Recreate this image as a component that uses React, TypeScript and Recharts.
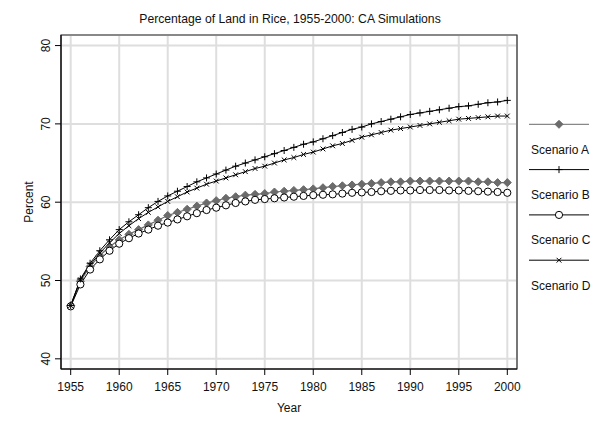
import { LineChart, Line, XAxis, YAxis, CartesianGrid, ReferenceArea } from "recharts";

const years = [
  1955, 1956, 1957, 1958, 1959, 1960, 1961, 1962, 1963, 1964, 1965, 1966, 1967, 1968, 1969, 1970,
  1971, 1972, 1973, 1974, 1975, 1976, 1977, 1978, 1979, 1980, 1981, 1982, 1983, 1984, 1985, 1986,
  1987, 1988, 1989, 1990, 1991, 1992, 1993, 1994, 1995, 1996, 1997, 1998, 1999, 2000,
];

const scenarioA = [
  46.8, 49.9, 51.8, 53.2, 54.3, 55.2, 55.9, 56.5, 57.1, 57.7, 58.3, 58.7, 59.1, 59.5, 59.9, 60.2,
  60.5, 60.7, 60.9, 61.0, 61.1, 61.3, 61.4, 61.5, 61.6, 61.7, 61.85, 62.0, 62.1, 62.2, 62.3, 62.4,
  62.5, 62.6, 62.6, 62.7, 62.7, 62.7, 62.7, 62.7, 62.7, 62.7, 62.6, 62.6, 62.5, 62.5,
];
const scenarioB = [
  46.8, 50.2, 52.2, 53.8, 55.2, 56.5, 57.5, 58.4, 59.3, 60.1, 60.8, 61.4, 62.0, 62.6, 63.1, 63.6,
  64.1, 64.6, 65.0, 65.4, 65.8, 66.2, 66.6, 67.0, 67.4, 67.7, 68.1, 68.5, 68.9, 69.3, 69.6, 70.0,
  70.3, 70.6, 70.9, 71.2, 71.4, 71.6, 71.8, 72.0, 72.2, 72.3, 72.5, 72.7, 72.8, 73.0,
];
const scenarioC = [
  46.7, 49.5, 51.4, 52.7, 53.8, 54.7, 55.4, 56.0, 56.5, 57.0, 57.4, 57.8, 58.2, 58.6, 59.0, 59.3,
  59.6, 59.9, 60.1, 60.3, 60.4, 60.5, 60.6, 60.7, 60.8, 60.9, 60.95, 61.0, 61.1, 61.2, 61.25, 61.3,
  61.4, 61.45, 61.5, 61.5, 61.55, 61.55, 61.55, 61.5, 61.5, 61.45, 61.4, 61.35, 61.3, 61.2,
];
const scenarioD = [
  46.8, 50.1, 52.0, 53.5, 54.8, 56.0, 57.0, 57.9, 58.7, 59.4, 60.1, 60.7, 61.3, 61.8, 62.3, 62.7,
  63.1, 63.5, 63.9, 64.3, 64.6, 65.0, 65.4, 65.7, 66.1, 66.4, 66.8, 67.2, 67.5, 67.9, 68.3, 68.6,
  68.9, 69.2, 69.4, 69.6, 69.8, 70.0, 70.2, 70.4, 70.6, 70.7, 70.8, 70.9, 71.0, 71.0,
];

const xTicks = [1955, 1960, 1965, 1970, 1975, 1980, 1985, 1990, 1995, 2000];
const yTicks = [40, 50, 60, 70, 80];
const seriesNames = ["Scenario A", "Scenario B", "Scenario C", "Scenario D"];

const data = years.map((year, i) => ({
  year,
  a: scenarioA[i],
  b: scenarioB[i],
  c: scenarioC[i],
  d: scenarioD[i],
}));

const FONT = '"Liberation Sans", Arial, Helvetica, sans-serif';
const GRAY = "#6b6b6b";

// marker shapes, shared by the series and the legend
function Diamond({ cx, cy }: { cx: number; cy: number }) {
  const r = 4;
  return <path d={`M${cx},${cy - r}L${cx + r},${cy}L${cx},${cy + r}L${cx - r},${cy}Z`} fill={GRAY} stroke={GRAY} />;
}
function Plus({ cx, cy }: { cx: number; cy: number }) {
  const r = 3.5;
  return <path d={`M${cx - r},${cy}H${cx + r}M${cx},${cy - r}V${cy + r}`} stroke="#000" strokeWidth={1} fill="none" />;
}
function Ring({ cx, cy }: { cx: number; cy: number }) {
  return <circle cx={cx} cy={cy} r={3.6} fill="#fff" stroke="#000" strokeWidth={1} />;
}
function Cross({ cx, cy }: { cx: number; cy: number }) {
  const r = 2.4;
  return <path d={`M${cx - r},${cy - r}L${cx + r},${cy + r}M${cx - r},${cy + r}L${cx + r},${cy - r}`} stroke="#000" strokeWidth={1} fill="none" />;
}

const markers = [Diamond, Plus, Ring, Cross];
const lineColors = [GRAY, "#000", "#000", "#000"];

function dotOf(Shape: typeof Diamond, tag: string) {
  return (props: any) => (
    <g key={`${tag}-${props.index}`}>
      <Shape cx={props.cx} cy={props.cy} />
    </g>
  );
}

// Stata style key: sample line on one row, its label on the row below
function StataLegend() {
  return (
    <svg width={70} height={200} style={{ position: "absolute", left: 520, top: 100, overflow: "visible" }}>
      {seriesNames.map((name, i) => {
        const Shape = markers[i];
        const ly = 16.3 + i * 45.3;
        return (
          <g key={name}>
            <line x1={1} x2={61} y1={ly} y2={ly} stroke={lineColors[i]} strokeWidth={1} />
            <Shape cx={31} cy={ly} />
            <text x={3} y={ly + 29.5} fontFamily={FONT} fontSize={12} fill="#111">
              {name}
            </text>
          </g>
        );
      })}
    </svg>
  );
}

function YTick(props: any) {
  const { x, y, payload } = props;
  return (
    <g transform={`translate(${x - 3.5},${y})`}>
      <text transform="rotate(-90)" textAnchor="middle" fontFamily={FONT} fontSize={12} fill="#111">
        {payload.value}
      </text>
    </g>
  );
}

export default function App() {
  return (
    <div style={{ position: "relative", width: 585, height: 414, fontFamily: FONT }}>
      <svg width={585} height={30} style={{ position: "absolute", left: 0, top: 0 }}>
        <text x={282} y={15.3} textAnchor="middle" fontFamily={FONT} fontSize={12.2} fill="#111">
          Percentage of Land in Rice, 1955-2000: CA Simulations
        </text>
      </svg>
      <LineChart width={585} height={414} data={data} margin={{ top: 27, right: 76, bottom: 13, left: 13 }}>
        <CartesianGrid stroke="#dedede" strokeWidth={2} />
        <XAxis
          dataKey="year"
          type="number"
          domain={[1954, 2001]}
          ticks={xTicks}
          height={40}
          tickSize={6}
          tickMargin={7}
          stroke="#000"
          tick={{ fill: "#111", fontSize: 12, fontFamily: FONT }}
          label={{
            content: () => (
              <text x={281} y={404} textAnchor="middle" fontFamily={FONT} fontSize={12} fill="#111">
                Year
              </text>
            ),
          }}
        />
        <YAxis
          type="number"
          domain={[38.7, 81.35]}
          allowDataOverflow
          ticks={yTicks}
          width={40}
          tickSize={6}
          stroke="#000"
          tick={<YTick />}
          label={{
            content: () => (
              <text
                transform="translate(24.5,194) rotate(-90)"
                textAnchor="middle"
                fontFamily={FONT}
                fontSize={12}
                fill="#111"
              >
                Percent
              </text>
            ),
          }}
        />
        <ReferenceArea x1={1954} x2={2001} y1={38.7} y2={81.35} fill="none" stroke="#333" strokeWidth={1.2} />
        <Line dataKey="a" stroke={GRAY} strokeWidth={1.2} dot={dotOf(Diamond, "a")} isAnimationActive={false} />
        <Line dataKey="c" stroke="#000" strokeWidth={1} dot={dotOf(Ring, "c")} isAnimationActive={false} />
        <Line dataKey="b" stroke="#000" strokeWidth={1} dot={dotOf(Plus, "b")} isAnimationActive={false} />
        <Line dataKey="d" stroke="#000" strokeWidth={1} dot={dotOf(Cross, "d")} isAnimationActive={false} />
      </LineChart>
      <StataLegend />
    </div>
  );
}
